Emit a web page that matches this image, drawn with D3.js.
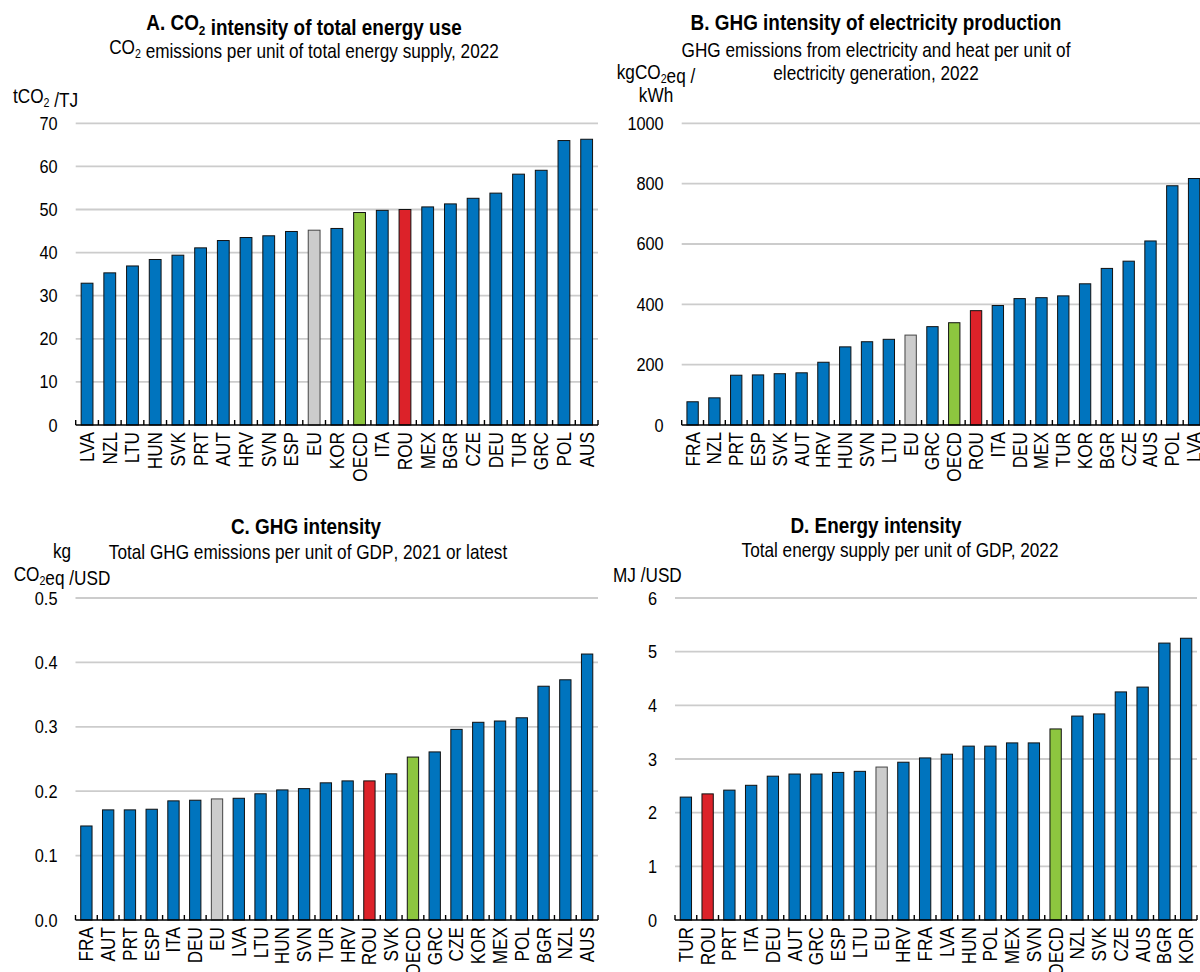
<!DOCTYPE html>
<html>
<head>
<meta charset="utf-8">
<script src="https://cdn.jsdelivr.net/npm/d3@7"></script>
<style>
  body { margin: 0; background: #fff; }
  svg text { font-family: "Liberation Sans", Arial, sans-serif; fill: #000; }
</style>
</head>
<body>
<svg id="chart" width="1200" height="972"></svg>
<script>
// panel A: CO2 intensity of total energy use (tCO2/TJ)
const catsA = ["LVA","NZL","LTU","HUN","SVK","PRT","AUT","HRV","SVN","ESP","EU","KOR","OECD","ITA","ROU","MEX","BGR","CZE","DEU","TUR","GRC","POL","AUS"]
const valsA = [32.9,35.3,36.9,38.4,39.4,41.1,42.8,43.5,43.9,44.9,45.2,45.6,49.3,49.8,50.0,50.6,51.3,52.6,53.8,58.2,59.1,66.0,66.3]
const ticksA = [0,10,20,30,40,50,60,70]

// panel B: GHG intensity of electricity production (kgCO2eq/kWh)
const catsB = ["FRA","NZL","PRT","ESP","SVK","AUT","HRV","HUN","SVN","LTU","EU","GRC","OECD","ROU","ITA","DEU","MEX","TUR","KOR","BGR","CZE","AUS","POL","LVA"]
const valsB = [77,90,165,166,170,173,208,259,276,284,298,326,339,379,396,419,422,428,468,519,543,610,793,817]
const ticksB = [0,200,400,600,800,1000]

// panel C: GHG intensity (kg CO2eq/USD)
const catsC = ["FRA","AUT","PRT","ESP","ITA","DEU","EU","LVA","LTU","HUN","SVN","TUR","HRV","ROU","SVK","OECD","GRC","CZE","KOR","MEX","POL","BGR","NZL","AUS"]
const valsC = [0.146,0.171,0.171,0.172,0.185,0.186,0.188,0.189,0.196,0.202,0.204,0.213,0.216,0.216,0.227,0.253,0.261,0.296,0.307,0.309,0.314,0.363,0.373,0.413]
const ticksC = [0,0.1,0.2,0.3,0.4,0.5]

// panel D: energy intensity (MJ/USD)
const catsD = ["TUR","ROU","PRT","ITA","DEU","AUT","GRC","ESP","LTU","EU","HRV","FRA","LVA","HUN","POL","MEX","SVN","OECD","NZL","SVK","CZE","AUS","BGR","KOR"]
const valsD = [2.29,2.35,2.42,2.51,2.68,2.72,2.72,2.75,2.77,2.85,2.94,3.02,3.09,3.24,3.24,3.30,3.30,3.56,3.80,3.84,4.25,4.34,5.16,5.25]
const ticksD = [0,1,2,3,4,5,6]

const svg = d3.select("#chart")

// no Arial Narrow here, so squeeze Liberation Sans sideways instead
const NARROW = 0.86

const barColour = c => c == "EU" ? "#cccccc" : c == "OECD" ? "#8dc63f" : c == "ROU" ? "#dc2229" : "#0074be"

// write a line of text made of [string, isSubscript] pieces
function richText(g, x, y, parts, size, anchor, weight) {
  const t = g.append("text")
    .attr("transform", "translate(" + x + "," + y + ") scale(" + NARROW + ",1)")
    .attr("text-anchor", anchor)
    .style("font-size", size + "px")
    .style("font-weight", weight || "normal")
  parts.forEach(p => {
    if (p[1]) {
      t.append("tspan").attr("dy", size * 0.22).style("font-size", (size * 0.62) + "px").text(p[0])
      t.append("tspan").attr("dy", -size * 0.22).text("")
    } else {
      t.append("tspan").text(p[0])
    }
  })
  return t
}

function drawPanel(cfg) {
  const g = svg.append("g")

  const x = d3.scaleBand()
    .domain(cfg.cats)
    .range([cfg.x0, cfg.x1])
    .paddingInner(0.48)
    .paddingOuter(0.24)

  const y = d3.scaleLinear()
    .domain([0, d3.max(cfg.ticks)])
    .range([cfg.y0, cfg.yTop])

  // gridlines
  g.selectAll(".grid")
    .data(cfg.ticks.filter(d => d > 0))
    .enter()
    .append("line")
    .attr("x1", cfg.x0).attr("x2", cfg.x1)
    .attr("y1", d => y(d)).attr("y2", d => y(d))
    .attr("stroke", "#cccccc")
    .attr("stroke-width", 1.8)

  // y tick labels
  g.selectAll(".ylab")
    .data(cfg.ticks)
    .enter()
    .append("text")
    .attr("transform", d => "translate(" + (cfg.x0 - 18) + "," + (y(d) + 6.5) + ") scale(" + NARROW + ",1)")
    .attr("text-anchor", "end")
    .style("font-size", "19px")
    .text(d => cfg.fmt(d))

  // bars
  g.selectAll("rect")
    .data(cfg.cats.map((c, i) => ({cat: c, val: cfg.vals[i]})))
    .enter()
    .append("rect")
    .attr("x", d => x(d.cat))
    .attr("width", x.bandwidth())
    .attr("y", d => y(d.val))
    .attr("height", d => cfg.y0 - y(d.val))
    .attr("fill", d => barColour(d.cat))
    .attr("stroke", d => d.cat == "EU" ? "#444" : "#111")
    .attr("stroke-width", 1)

  // category axis: line with small upward ticks between bars
  g.append("line")
    .attr("x1", cfg.x0).attr("x2", cfg.x1)
    .attr("y1", cfg.y0).attr("y2", cfg.y0)
    .attr("stroke", "#000").attr("stroke-width", 1.6)

  const step = x.step()
  g.selectAll(".tick")
    .data(d3.range(cfg.cats.length + 1))
    .enter()
    .append("line")
    .attr("x1", i => cfg.x0 + i * step).attr("x2", i => cfg.x0 + i * step)
    .attr("y1", cfg.y0).attr("y2", cfg.y0 - 5)
    .attr("stroke", "#000").attr("stroke-width", 1.4)

  // rotated category labels
  g.selectAll(".xlab")
    .data(cfg.cats)
    .enter()
    .append("text")
    .attr("transform", d => "translate(" + (x(d) + x.bandwidth() / 2 + 7) + "," + (cfg.y0 + 7) + ") rotate(-90) scale(" + NARROW + ",1)")
    .attr("text-anchor", "end")
    .style("font-size", "20px")
    .text(d => d)

  // titles
  richText(g, cfg.cx, cfg.titleY, cfg.title, 22, "middle", "bold")
  cfg.sub.forEach((line, i) => richText(g, cfg.subX || cfg.cx, cfg.subY + i * 23, line, 20, "middle"))
  cfg.unit.forEach((line, i) => richText(g, cfg.unitX, cfg.unitY + i * 23, line, 20, cfg.unitAnchor || "start"))
}

drawPanel({
  cats: catsA, vals: valsA, ticks: ticksA, fmt: d3.format("d"),
  x0: 75.7, x1: 598, y0: 425, yTop: 123.3,
  cx: 304, titleY: 30,
  title: [["A. CO"], ["2", true], [" intensity of total energy use"]],
  sub: [[["CO"], ["2", true], [" emissions per unit of total energy supply, 2022"]]], subY: 54,
  unit: [[["tCO"], ["2", true], [" /TJ"]]], unitX: 13, unitY: 103
})

drawPanel({
  cats: catsB, vals: valsB, ticks: ticksB, fmt: d3.format("d"),
  x0: 681.7, x1: 1205, y0: 425, yTop: 123.3,
  cx: 876, titleY: 30,
  title: [["B. GHG intensity of electricity production"]],
  sub: [[["GHG emissions from electricity and heat per unit of"]], [["electricity generation, 2022"]]], subY: 57,
  unit: [[["kgCO"], ["2", true], ["eq /"]], [["kWh"]]], unitX: 656, unitY: 79, unitAnchor: "middle"
})

drawPanel({
  cats: catsC, vals: valsC, ticks: ticksC, fmt: d3.format(".1f"),
  x0: 75.5, x1: 598, y0: 920, yTop: 598,
  cx: 306, titleY: 534,
  title: [["C. GHG intensity"]],
  sub: [[["Total GHG emissions per unit of GDP"], [", 2021 or latest"]]], subY: 559, subX: 308,
  unit: [[["kg"]], [["CO"], ["2", true], ["eq /USD"]]], unitX: 62, unitY: 558, unitAnchor: "middle"
})

drawPanel({
  cats: catsD, vals: valsD, ticks: ticksD, fmt: d3.format("d"),
  x0: 675, x1: 1197, y0: 920, yTop: 598,
  cx: 876, titleY: 533,
  title: [["D. Energy intensity"]],
  sub: [[["Total energy supply per unit of GDP, 2022"]]], subY: 557, subX: 900,
  unit: [[["MJ /USD"]]], unitX: 613, unitY: 582
})
</script>
</body>
</html>
